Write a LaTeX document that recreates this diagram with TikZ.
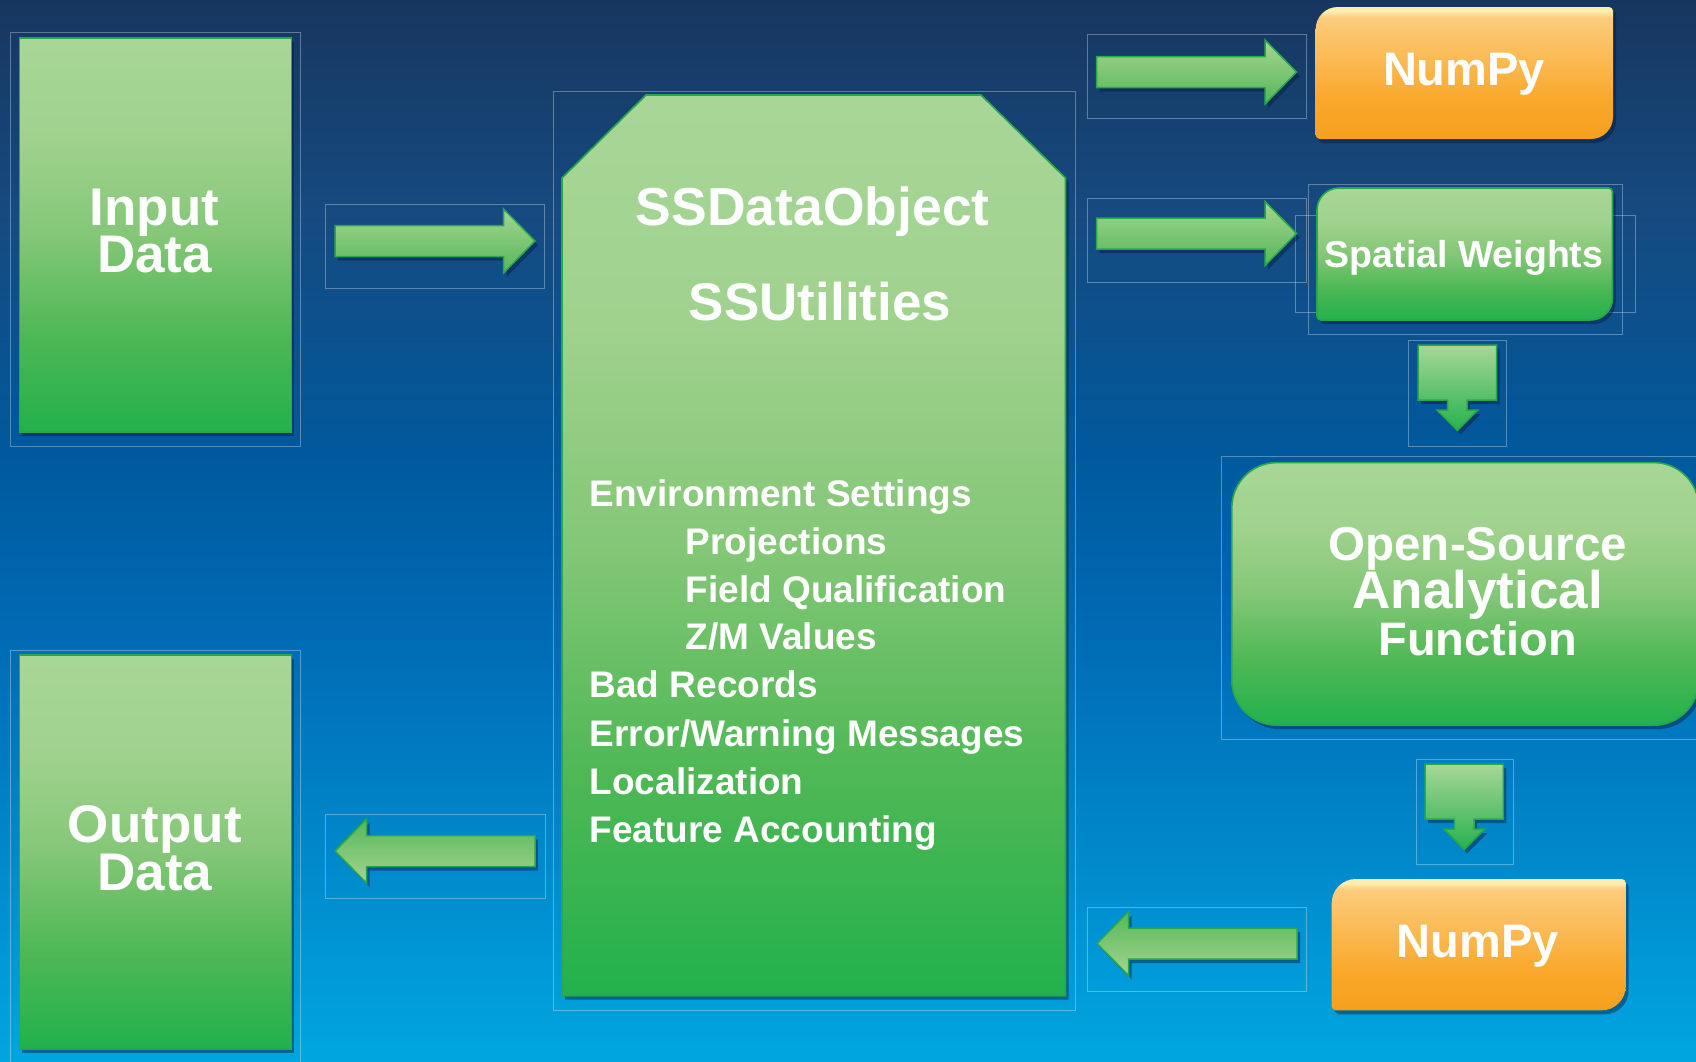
\documentclass[tikz,border=0pt]{standalone}
\usepackage{fontspec}
\setmainfont{Liberation Sans}
\usetikzlibrary{shadows}

% background blues, top to bottom
\definecolor{bgA}{HTML}{17365F}
\definecolor{bgB}{HTML}{164A80}
\definecolor{bgC}{HTML}{00599D}
\definecolor{bgD}{HTML}{006BB5}
\definecolor{bgE}{HTML}{008FD0}
\definecolor{bgF}{HTML}{00A6E0}
% greens
\definecolor{gA}{HTML}{A8D697}
\definecolor{gA2}{HTML}{A0D28E}
\definecolor{gB}{HTML}{84C777}
\definecolor{gC}{HTML}{4FB855}
\definecolor{gD}{HTML}{22B14C}
\definecolor{gEdge}{HTML}{27A84A}
\definecolor{arLight}{HTML}{A5D592}
\definecolor{arDark}{HTML}{55B757}
% oranges
\definecolor{orHi}{HTML}{FEEFB0}
\definecolor{orA}{HTML}{FCCC7C}
\definecolor{orB}{HTML}{FBBD5A}
\definecolor{orC}{HTML}{F9A82B}
\definecolor{orD}{HTML}{F6A01E}
\definecolor{shadowc}{HTML}{001A40}

\pgfdeclareverticalshading{bgshade}{100bp}{color(0bp)=(bgF); color(25bp)=(bgF); color(32.5bp)=(bgE); color(45bp)=(bgD); color(53.5bp)=(bgC); color(65bp)=(bgB); color(75bp)=(bgA); color(100bp)=(bgA)}
\pgfdeclareverticalshading{greenshade}{100bp}{color(0bp)=(gD); color(25bp)=(gD); color(37.5bp)=(gC); color(50bp)=(gB); color(62.5bp)=(gA2); color(75bp)=(gA); color(100bp)=(gA)}
\pgfdeclareverticalshading{orangeshade}{100bp}{color(0bp)=(orD); color(25bp)=(orD); color(40bp)=(orC); color(58bp)=(orB); color(71bp)=(orA); color(73.5bp)=(orHi); color(75bp)=(orHi); color(100bp)=(orHi)}

\newcommand\fsz[1]{\fontsize{#1}{#1}\selectfont\bfseries}

% box with big rounded top-left / bottom-right corners: x1, y1, x2, y2, radius
\newcommand\rdiagpath[5]{(#1,#2+#5) .. controls (#1,#2+0.45*#5) and (#1+0.45*#5,#2) .. (#1+#5,#2)
  -- (#3-4,#2) .. controls (#3-1.8,#2) and (#3,#2+1.8) .. (#3,#2+4)
  -- (#3,#4-#5) .. controls (#3,#4-0.45*#5) and (#3-0.45*#5,#4) .. (#3-#5,#4)
  -- (#1+4,#4) .. controls (#1+1.8,#4) and (#1,#4-1.8) .. (#1,#4-4) -- cycle}

\tikzset{
  frame/.style={draw=white, draw opacity=0.32, line width=0.9pt},
  softshadow/.style={drop shadow={shadow xshift=3pt, shadow yshift=-4pt, fill=shadowc, opacity=0.45}},
  gshape/.style={shade, shading=greenshade, draw=gEdge, line width=1.6pt},
  gbox/.style={rectangle, gshape, inner sep=0pt, anchor=north west},
  oshape/.style={shade, shading=orangeshade},
  arrowR/.style={top color=arLight, bottom color=arDark, draw=gEdge, line width=1.5pt},
  arrowL/.style={top color=arDark, bottom color=arLight, draw=gEdge, line width=1.5pt},
  arrowD/.style={top color=gA, bottom color=gD!90!gC, draw=gEdge, line width=1.5pt},
  word/.style={text=white, inner sep=0pt, anchor=base},
  item/.style={text=white, inner sep=0pt, anchor=base west, font=\fsz{37}},
  rblock/.pic={\path[arrowR, softshadow] (0,-15.5) -- (168.5,-15.5) -- (168.5,-32) -- (200,0)
      -- (168.5,32) -- (168.5,15.5) -- (0,15.5) -- cycle;},
  lblock/.pic={\path[arrowL, softshadow] (0,0) -- (31.5,-32) -- (31.5,-15.5) -- (200,-15.5)
      -- (200,15.5) -- (31.5,15.5) -- (31.5,32) -- cycle;},
  dblock/.pic={\path[arrowD, softshadow] (-39.2,0) -- (39.2,0) -- (39.2,55) -- (9.8,55) -- (9.8,65)
      -- (20.5,65) -- (0,85.5) -- (-20.5,65) -- (-9.8,65) -- (-9.8,55) -- (-39.2,55) -- cycle;}
}

\begin{document}
\begin{tikzpicture}[x=1pt, y=-1pt]
\useasboundingbox (0,0) rectangle (1696,1061);
\clip (0,0) rectangle (1696,1061);
\path[shade, shading=bgshade] (0,0) rectangle (1696,1061);

% thin placeholder outlines
\draw[frame] (10.7,32) rectangle (300.7,446);
\draw[frame] (10.7,650) rectangle (300.7,1080);
\draw[frame] (325.7,204) rectangle (544.6,288);
\draw[frame] (325,814) rectangle (545,898);
\draw[frame] (553,91) rectangle (1075.7,1010);
\draw[frame] (1087.5,34) rectangle (1306.7,118);
\draw[frame] (1087.5,198) rectangle (1306.7,282);
\draw[frame] (1087.5,907) rectangle (1306.8,991);
\draw[frame] (1308,184) rectangle (1622,334);
\draw[frame] (1295,215) rectangle (1635,312);
\draw[frame] (1408.5,340) rectangle (1506,446);
\draw[frame] (1221,456.6) rectangle (1720,739);
\draw[frame] (1416,759) rectangle (1513,864.5);

% input and output data
\node[gbox, softshadow, minimum width=272pt, minimum height=394pt] (inbox) at (18.6,37) {};
\node[word, font=\fsz{53}] (intxt1) at (154.6,225.7) {Input};
\node[word, font=\fsz{53}] (intxt2) at (154.6,272.7) {Data};

\node[gbox, softshadow, minimum width=272pt, minimum height=394pt] (outbox) at (18.6,654.3) {};
\node[word, font=\fsz{53}] (outtxt1) at (154.8,842.7) {Output};
\node[word, font=\fsz{53}] (outtxt2) at (154.8,890) {Data};

% central SSDataObject block
\path[gshape, softshadow] (562,178) -- (646,95) -- (981,95) -- (1065.5,178)
  -- (1065.5,995.7) -- (562,995.7) -- cycle;
\node[word, font=\fsz{53.5}] (ssdo) at (812.8,225.7) {SSDataObject};
\node[word, font=\fsz{53}] (ssut) at (820,320.7) {SSUtilities};
\node[item] (it1) at (589.5,506) {Environment Settings};
\node[item] (it2) at (685.5,554) {Projections};
\node[item] (it3) at (685.5,602) {Field Qualification};
\node[item] (it4) at (685.5,649) {Z/M Values};
\node[item] (it5) at (589.5,697) {Bad Records};
\node[item] (it6) at (589.5,746) {Error/Warning Messages};
\node[item] (it7) at (589.5,794) {Localization};
\node[item] (it8) at (589.5,842) {Feature Accounting};

% right column
\path[oshape, softshadow] \rdiagpath{1315.7}{7}{1613}{139}{22};
\node[word, font=\fsz{47}] (np1) at (1464,85.5) {NumPy};

\path[gshape, softshadow] \rdiagpath{1317}{188}{1612.5}{320}{22};
\node[word, font=\fsz{37.5}] (sw) at (1464,267) {Spatial Weights};

\node[gbox, softshadow, rounded corners=45pt, minimum width=467pt, minimum height=262.6pt] (osaf) at (1231,461.8) {};
\node[word, font=\fsz{47.5}] (os1) at (1477.7,560) {Open-Source};
\node[word, font=\fsz{53}] (os2) at (1477.7,608.3) {Analytical};
\node[word, font=\fsz{47}] (os3) at (1477.7,655.8) {Function};

\path[oshape, softshadow] \rdiagpath{1331.7}{879}{1625.7}{1010.3}{24};
\node[word, font=\fsz{47}] (np2) at (1477.7,957) {NumPy};

% block arrows
\coordinate (inarrow) at (335,241);
\coordinate (nparrow) at (1096.5,72);
\coordinate (swarrow) at (1096.5,233.5);
\coordinate (outarrow) at (335,851);
\coordinate (backarrow) at (1097,943.5);
\coordinate (swdown) at (1457.3,345);
\coordinate (osdown) at (1464.2,764);

\pic at (inarrow) {rblock};
\pic at (nparrow) {rblock};
\pic at (swarrow) {rblock};
\pic at (outarrow) {lblock};
\pic at (backarrow) {lblock};
\pic at (swdown) {dblock};
\pic at (osdown) {dblock};
\end{tikzpicture}
\end{document}
